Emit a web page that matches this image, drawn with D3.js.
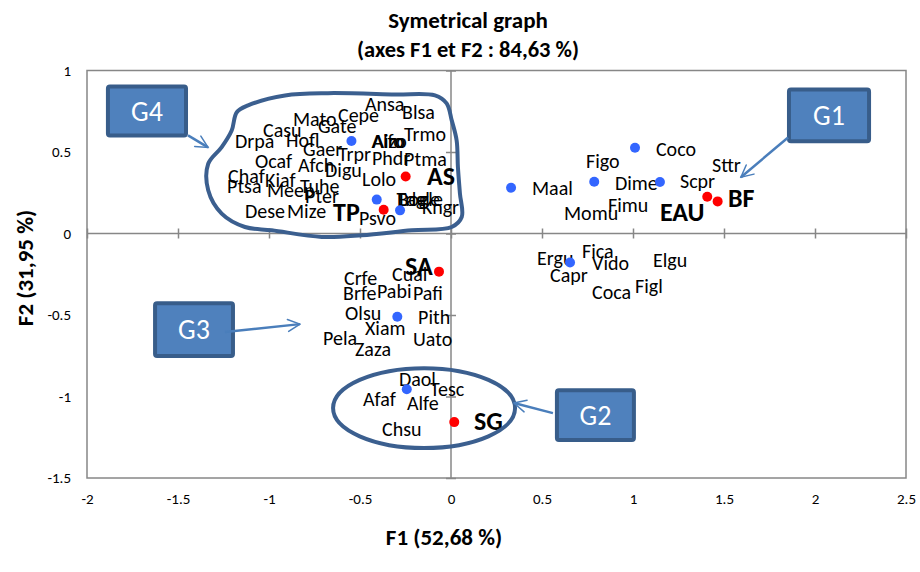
<!DOCTYPE html>
<html>
<head>
<meta charset="utf-8">
<script src="https://cdn.jsdelivr.net/npm/d3@7"></script>
<style>
  body { margin: 0; background: #fff; }
  svg { display: block; }
  text { font-family: Carlito, Calibri, Lato, sans-serif; }
</style>
</head>
<body>
<div id="chart"></div>
<script>
// Axis ticks
const xTicks = [-2, -1.5, -1, -0.5, 0, 0.5, 1, 1.5, 2, 2.5];
const yTicks = [-1.5, -1, -0.5, 0, 0.5, 1];

// Row points (blue)
const rowPoints = [
  [-0.547, 0.567], [-0.408, 0.208], [-0.28, 0.142],
  [0.33, 0.281], [0.787, 0.318], [1.011, 0.526], [1.148, 0.316],
  [0.654, -0.178], [-0.295, -0.511], [-0.243, -0.955]
];

// Column points (red) and their labels
const colNames = ['AS', 'TP', 'EAU', 'BF', 'SA', 'SG'];
const colPoints = [
  [-0.249, 0.35], [-0.37, 0.146], [1.408, 0.226],
  [1.465, 0.197], [-0.066, -0.234], [0.018, -1.157]
];
const colLabelPos = [
  [-0.132, 0.295], [-0.648, 0.075], [1.148, 0.075],
  [1.522, 0.161], [-0.253, -0.256], [0.126, -1.206]
];

// Row labels (text anchor = start, baseline)
const rowLabels = [
  ['Ansa', -0.473, 0.749], ['Blsa', -0.269, 0.700], ['Mato', -0.868, 0.657],
  ['Cepe', -0.621, 0.681], ['Casu', -1.033, 0.589], ['Gate', -0.731, 0.614],
  ['Hofl', -0.907, 0.528], ['Drpa', -1.187, 0.522], ['Gaer', -0.813, 0.473],
  ['Airo', -0.434, 0.522], ['Aizo', -0.431, 0.522], ['Alfo', -0.437, 0.522],
  ['Trmo', -0.258, 0.565], ['Trpr', -0.621, 0.442], ['Phdr', -0.434, 0.418],
  ['Ptma', -0.258, 0.412], ['Ocaf', -1.077, 0.400], ['Afch', -0.841, 0.375],
  ['Digu', -0.692, 0.344], ['Chaf', -1.225, 0.308], ['Kiaf', -1.022, 0.283],
  ['Lolo', -0.489, 0.289], ['Ptsa', -1.231, 0.246], ['Tuhe', -0.830, 0.246],
  ['Meep', -1.011, 0.222], ['Pter', -0.802, 0.185],
  ['Eagle', -0.297, 0.167], ['Bogle', -0.294, 0.167], ['Trle', -0.300, 0.167],
  ['Kngr', -0.159, 0.118], ['Dese', -1.132, 0.093], ['Mize', -0.901, 0.093],
  ['Psvo', -0.505, 0.050],
  ['Coco', 1.126, 0.473], ['Figo', 0.742, 0.400], ['Sttr', 1.434, 0.375],
  ['Maal', 0.445, 0.234], ['Dime', 0.901, 0.265], ['Scpr', 1.258, 0.277],
  ['Fimu', 0.863, 0.130], ['Momu', 0.621, 0.081],
  ['Fica', 0.720, -0.152], ['Ergu', 0.473, -0.195], ['Vido', 0.775, -0.225],
  ['Elgu', 1.110, -0.207], ['Capr', 0.544, -0.299], ['Coca', 0.775, -0.403],
  ['Figl', 1.011, -0.362],
  ['Cual', -0.324, -0.293], ['Crfe', -0.588, -0.317], ['Brfe', -0.593, -0.409],
  ['Pabi', -0.407, -0.397], ['Pafi', -0.209, -0.409], ['Olsu', -0.582, -0.532],
  ['Pith', -0.181, -0.556], ['Xiam', -0.473, -0.624], ['Pela', -0.703, -0.685],
  ['Uato', -0.209, -0.691], ['Zaza', -0.527, -0.752],
  ['Daol', -0.286, -0.936], ['Tesc', -0.115, -0.998], ['Afaf', -0.484, -1.059],
  ['Alfe', -0.242, -1.083], ['Chsu', -0.379, -1.243]
];

// Group annotations
const groupNames = ['G4', 'G1', 'G3', 'G2'];
const groupBoxes = [
  [-1.896, 0.914, -1.445, 0.589],
  [1.846, 0.896, 2.308, 0.553],
  [-1.637, -0.415, -1.187, -0.764],
  [0.571, -0.949, 1.016, -1.279]
];
const groupArrows = [
  [-1.445, 0.602, -1.335, 0.528],
  [1.852, 0.589, 1.593, 0.345],
  [-1.242, -0.605, -0.830, -0.556],
  [0.560, -1.102, 0.346, -1.040]
];
// outline around G4
const g4Outline = [
  [-1.177, 0.744], [-1.115, 0.786], [-0.912, 0.847], [-0.676, 0.861],
  [-0.308, 0.853], [-0.088, 0.847], [-0.024, 0.798], [0.004, 0.694],
  [0.031, 0.571], [0.038, 0.407], [0.049, 0.246], [0.059, 0.101],
  [0.004, 0.040], [-0.216, 0.020], [-0.491, -0.011], [-0.710, -0.021],
  [-0.985, 0.020], [-1.132, 0.040], [-1.260, 0.122], [-1.334, 0.265],
  [-1.334, 0.428], [-1.260, 0.530], [-1.205, 0.632]
];
// ellipse around G2: center, radii
const g2Ellipse = [-0.148, -1.071, 0.5, 0.245];

const width = 920, height = 572;
const margin = { top: 70.5, right: 14, bottom: 94, left: 87 };

const svg = d3.select('#chart').append('svg')
  .attr('width', width)
  .attr('height', height);

const x = d3.scaleLinear().domain([-2, 2.5]).range([margin.left, width - margin.right]);
const y = d3.scaleLinear().domain([-1.5, 1]).range([height - margin.bottom, margin.top]);

const axisColor = '#878787';

// Plot border
svg.append('rect')
  .attr('x', x(-2))
  .attr('y', y(1))
  .attr('width', x(2.5) - x(-2))
  .attr('height', y(-1.5) - y(1))
  .attr('fill', 'none')
  .attr('stroke', axisColor)
  .attr('stroke-width', 1.5);

// Zero lines
svg.append('line')
  .attr('x1', x(-2)).attr('x2', x(2.5))
  .attr('y1', y(0)).attr('y2', y(0))
  .attr('stroke', axisColor).attr('stroke-width', 1.5);
svg.append('line')
  .attr('x1', x(0)).attr('x2', x(0))
  .attr('y1', y(1)).attr('y2', y(-1.5))
  .attr('stroke', axisColor).attr('stroke-width', 1.5);

// Cross ticks on zero lines
const xTickAxis = svg.append('g')
  .attr('transform', `translate(0,${y(0) - 5})`)
  .call(d3.axisBottom(x).tickValues(xTicks).tickSize(10).tickFormat(''));
const yTickAxis = svg.append('g')
  .attr('transform', `translate(${x(0) + 5},0)`)
  .call(d3.axisLeft(y).tickValues(yTicks).tickSize(10).tickFormat(''));
[xTickAxis, yTickAxis].forEach(g => {
  g.select('.domain').remove();
  g.selectAll('line').attr('stroke', axisColor).attr('stroke-width', 1.5);
});

// Tick labels
const xLab = svg.append('g')
  .attr('transform', `translate(0,${y(-1.5)})`)
  .call(d3.axisBottom(x).tickValues(xTicks).tickSize(0).tickPadding(15).tickFormat(d => String(d)));
const yLab = svg.append('g')
  .attr('transform', `translate(${x(-2)},0)`)
  .call(d3.axisLeft(y).tickValues(yTicks).tickSize(0).tickPadding(16).tickFormat(d => String(d)));
[xLab, yLab].forEach(g => {
  g.select('.domain').remove();
  g.selectAll('text')
    .attr('fill', '#000')
    .style('font-family', 'Carlito, Calibri, Lato, sans-serif')
    .style('font-size', '15px');
});

// Title
svg.append('text')
  .attr('x', 468).attr('y', 28)
  .attr('text-anchor', 'middle')
  .attr('font-weight', 'bold')
  .attr('font-size', '23px')
  .text('Symetrical graph');
svg.append('text')
  .attr('x', 468).attr('y', 57)
  .attr('text-anchor', 'middle')
  .attr('font-weight', 'bold')
  .attr('font-size', '22.5px')
  .text('(axes F1 et F2 : 84,63 %)');

// Axis titles
svg.append('text')
  .attr('x', 444).attr('y', 545)
  .attr('text-anchor', 'middle')
  .attr('font-weight', 'bold')
  .attr('font-size', '23px')
  .text('F1 (52,68 %)');
svg.append('text')
  .attr('transform', 'translate(33,268) rotate(-90)')
  .attr('text-anchor', 'middle')
  .attr('font-weight', 'bold')
  .attr('font-size', '23px')
  .text('F2 (31,95 %)');

// Row labels
svg.append('g').selectAll('text')
  .data(rowLabels)
  .enter()
  .append('text')
  .attr('x', d => x(d[1]))
  .attr('y', d => y(d[2]))
  .attr('font-size', '20px')
  .attr('fill', '#000')
  .text(d => d[0]);

// Column labels (bold)
svg.append('g').selectAll('text')
  .data(colNames)
  .enter()
  .append('text')
  .attr('x', (d, i) => x(colLabelPos[i][0]))
  .attr('y', (d, i) => y(colLabelPos[i][1]))
  .attr('font-size', '26px')
  .attr('font-weight', 'bold')
  .attr('fill', '#000')
  .text(d => d);

// Points
svg.append('g').selectAll('circle')
  .data(rowPoints)
  .enter()
  .append('circle')
  .attr('cx', d => x(d[0]))
  .attr('cy', d => y(d[1]))
  .attr('r', 5)
  .attr('fill', '#3366ff');
svg.append('g').selectAll('circle')
  .data(colPoints)
  .enter()
  .append('circle')
  .attr('cx', d => x(d[0]))
  .attr('cy', d => y(d[1]))
  .attr('r', 5)
  .attr('fill', '#ff0000');

// Group outlines
const outline = d3.line()
  .x(d => x(d[0]))
  .y(d => y(d[1]))
  .curve(d3.curveCatmullRomClosed);
svg.append('path')
  .attr('d', outline(g4Outline))
  .attr('fill', 'none')
  .attr('stroke', '#3b5f8f')
  .attr('stroke-width', 4);
svg.append('ellipse')
  .attr('cx', x(g2Ellipse[0]))
  .attr('cy', y(g2Ellipse[1]))
  .attr('rx', x(g2Ellipse[2]) - x(0))
  .attr('ry', y(0) - y(g2Ellipse[3]))
  .attr('fill', 'none')
  .attr('stroke', '#3b5f8f')
  .attr('stroke-width', 4);

// Group boxes
const boxes = svg.append('g').selectAll('g')
  .data(groupNames)
  .enter()
  .append('g');
boxes.append('rect')
  .attr('x', (d, i) => x(groupBoxes[i][0]) + 2)
  .attr('y', (d, i) => y(groupBoxes[i][1]) + 2)
  .attr('width', (d, i) => x(groupBoxes[i][2]) - x(groupBoxes[i][0]) - 4)
  .attr('height', (d, i) => y(groupBoxes[i][3]) - y(groupBoxes[i][1]) - 4)
  .attr('rx', 2)
  .attr('fill', '#4f81bd')
  .attr('stroke', '#385d8a')
  .attr('stroke-width', 4);
boxes.append('text')
  .attr('x', (d, i) => (x(groupBoxes[i][0]) + x(groupBoxes[i][2])) / 2)
  .attr('y', (d, i) => (y(groupBoxes[i][1]) + y(groupBoxes[i][3])) / 2)
  .attr('dy', '0.35em')
  .attr('text-anchor', 'middle')
  .attr('font-size', '28px')
  .attr('fill', '#fff')
  .text(d => d);

// Arrows with open heads
svg.append('defs').append('marker')
  .attr('id', 'head')
  .attr('viewBox', '0 0 10 10')
  .attr('refX', 9)
  .attr('refY', 5)
  .attr('markerWidth', 6)
  .attr('markerHeight', 6)
  .attr('markerUnits', 'strokeWidth')
  .attr('orient', 'auto')
  .append('path')
  .attr('d', 'M1,1 L9,5 L1,9')
  .attr('fill', 'none')
  .attr('stroke', '#4a7ebb')
  .attr('stroke-width', 1)
  .attr('stroke-linecap', 'round');

svg.append('g').selectAll('line')
  .data(groupArrows)
  .enter()
  .append('line')
  .attr('x1', d => x(d[0]))
  .attr('y1', d => y(d[1]))
  .attr('x2', d => x(d[2]))
  .attr('y2', d => y(d[3]))
  .attr('stroke', '#4a7ebb')
  .attr('stroke-width', 2.5)
  .attr('marker-end', 'url(#head)');
</script>
</body>
</html>
